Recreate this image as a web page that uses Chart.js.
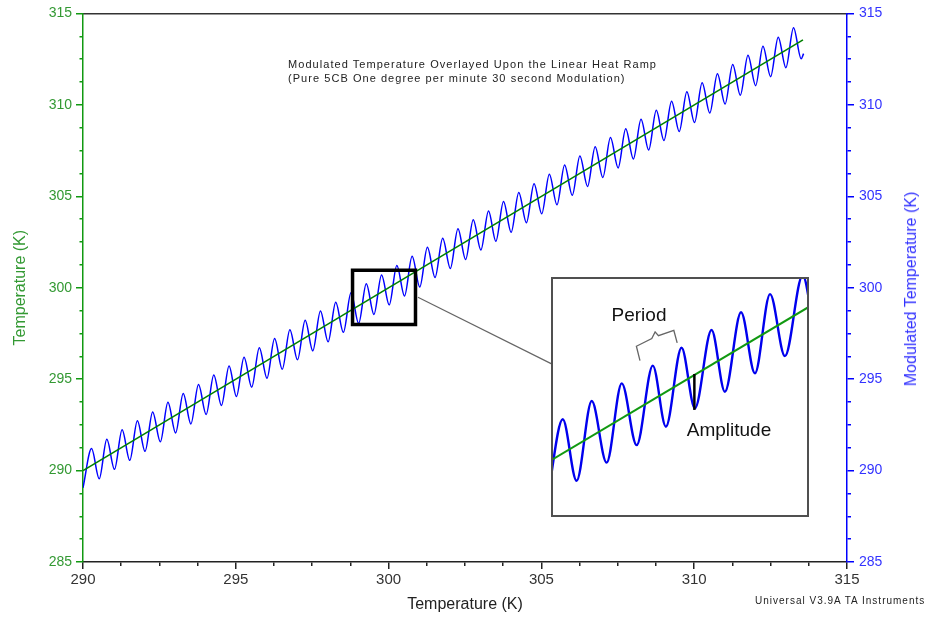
<!DOCTYPE html>
<html>
<head>
<meta charset="utf-8">
<script src="https://cdn.jsdelivr.net/npm/chart.js@4.4.1/dist/chart.umd.min.js"></script>
<style>
  body { margin:0; background:#fff; font-family:"Liberation Sans", Arial, sans-serif; }
  #wrap { position:relative; width:927px; height:617px; }
  .txt { position:absolute; white-space:nowrap; color:#222; }
  #inset { position:absolute; left:551px; top:277px; width:254px; height:236px; border:2px solid #505050; background:#fff; }
  #inset canvas { display:block; }
</style>
</head>
<body>
<div id="wrap">
  <canvas id="main" width="927" height="617"></canvas>
  <div class="txt" style="left:288px;top:57px;font-size:11px;line-height:14px;letter-spacing:1.05px;">Modulated Temperature Overlayed Upon the Linear Heat Ramp<br>(Pure 5CB One degree per minute 30 second Modulation)</div>
  <div class="txt" style="left:755px;top:595px;font-size:10px;letter-spacing:1px;">Universal V3.9A TA Instruments</div>
  <div class="txt" style="left:911px;top:289px;font-size:16px;line-height:1;color:#3333ff;transform:translate(-50%,-50%) rotate(-90deg);">Modulated Temperature (K)</div>
  <div id="inset"><canvas id="zoom" width="254" height="236"></canvas></div>
  <div class="txt" style="left:639px;top:314px;font-size:19px;line-height:1;color:#111;transform:translate(-50%,-50%);">Period</div>
  <div class="txt" style="left:729px;top:429px;font-size:19px;line-height:1;color:#111;transform:translate(-50%,-50%);">Amplitude</div>
</div>
<script>
const FONT = "'Liberation Sans', Arial, sans-serif";

// linear heat ramp (green)
const rampT = [290.00, 313.56];
const rampK = [290.00, 313.55];

// modulated temperature (blue): peaks and troughs
const peakT = [290.28, 290.78, 291.28, 291.78, 292.28, 292.78, 293.28, 293.78, 294.28, 294.78,
  295.27, 295.77, 296.27, 296.77, 297.27, 297.77, 298.27, 298.77, 299.27, 299.77,
  300.27, 300.77, 301.27, 301.77, 302.27, 302.77, 303.27, 303.76, 304.26, 304.76,
  305.26, 305.76, 306.26, 306.76, 307.26, 307.76, 308.26, 308.76, 309.26, 309.76,
  310.26, 310.76, 311.26, 311.76, 312.25, 312.75, 313.25];
const peakMod = [291.20, 291.71, 292.23, 292.72, 293.20, 293.73, 294.22, 294.70, 295.23, 295.72,
  296.20, 296.72, 297.22, 297.70, 298.22, 298.72, 299.20, 299.72, 300.21, 300.70,
  301.22, 301.72, 302.21, 302.70, 303.22, 303.72, 304.20, 304.71, 305.21, 305.69,
  306.21, 306.71, 307.20, 307.71, 308.21, 308.69, 309.21, 309.71, 310.20, 310.72,
  311.21, 311.70, 312.21, 312.71, 313.20, 313.70, 314.22];
const troughT = [290.53, 291.03, 291.53, 292.03, 292.53, 293.03, 293.53, 294.03, 294.53, 295.02,
  295.52, 296.02, 296.52, 297.02, 297.52, 298.02, 298.52, 299.02, 299.52, 300.02,
  300.52, 301.02, 301.52, 302.02, 302.52, 303.02, 303.51, 304.01, 304.51, 305.01,
  305.51, 306.01, 306.51, 307.01, 307.51, 308.01, 308.51, 309.01, 309.51, 310.01,
  310.51, 311.01, 311.51, 312.01, 312.50, 313.00, 313.50];
const troughMod = [289.55, 290.07, 290.56, 291.05, 291.57, 292.06, 292.55, 293.07, 293.56, 294.05,
  294.56, 295.05, 295.54, 296.06, 296.55, 297.04, 297.56, 298.05, 298.54, 299.06,
  299.55, 300.04, 300.56, 301.05, 301.54, 302.06, 302.54, 303.03, 303.55, 304.04,
  304.53, 305.05, 305.54, 306.03, 306.55, 307.04, 307.53, 308.05, 308.54, 309.03,
  309.55, 310.04, 310.53, 311.05, 311.54, 312.03, 312.52];
const edgeT = [290.00, 313.58];
const edgeMod = [289.06, 312.80];

// zoomed region marked on the main plot, and the leader line to the inset
const zoomT = [298.82, 300.88];
const zoomK = [297.99, 300.96];
const leaderT = [300.96, 305.35];
const leaderK = [299.48, 295.82];

// inset (schematic close-up, arbitrary 0-100 units)
const insetRampX = [0, 100];
const insetRampY = [23.7, 87.5];
const insetPeakX = [4.3, 15.6, 27.3, 39.4, 50.6, 62.3, 73.8, 85.1, 97.8];
const insetPeakY = [40.7, 48.3, 55.7, 63.1, 70.6, 78.0, 85.4, 93.0, 100.8];
const insetTroughX = [-1.6, 9.7, 21.4, 33.1, 44.5, 55.8, 67.5, 79.2, 90.9, 102.6];
const insetTroughY = [8.0, 15.0, 22.6, 29.9, 37.6, 45.3, 52.2, 59.9, 67.1, 74.6];
const amplitudeX = [55.6, 55.6];
const amplitudeY = [44.6, 59.6];
const braceX = [34.4, 33.0, 39.0, 40.3, 41.6, 47.6, 48.9];
const braceY = [65.2, 71.2, 74.4, 77.2, 75.6, 77.8, 72.6];

const pts = (xs, ys) => xs.map((x, i) => ({x: x, y: ys[i]}));
const byX = (a, b) => a.x - b.x;

const modData = pts(peakT, peakMod).concat(pts(troughT, troughMod), pts(edgeT, edgeMod)).sort(byX);
const boxData = [
  {x: zoomT[0], y: (zoomK[0] + zoomK[1]) / 2},
  {x: zoomT[0], y: zoomK[1]}, {x: zoomT[1], y: zoomK[1]},
  {x: zoomT[1], y: zoomK[0]}, {x: zoomT[0], y: zoomK[0]},
  {x: zoomT[0], y: (zoomK[0] + zoomK[1]) / 2}
];

const isMajor = v => Math.abs(v % 5) < 1e-6;
function axisGrid(color, minorDash) {
  return {
    drawOnChartArea: false,
    color: color,
    lineWidth: 1.5,
    tickLength: 7,
    tickBorderDash: ctx => (ctx.tick && !isMajor(ctx.tick.value)) ? minorDash : []
  };
}

new Chart(document.getElementById('main'), {
  type: 'line',
  data: {
    datasets: [
      {label: 'Temperature', data: pts(rampT, rampK), yAxisID: 'y', borderColor: '#008000', borderWidth: 1.6, pointRadius: 0, tension: 0, order: 1},
      {label: 'Modulated Temperature', data: modData, yAxisID: 'y2', borderColor: '#0000ff', borderWidth: 1.5, pointRadius: 0, cubicInterpolationMode: 'monotone', order: 2},
      {label: 'zoom', data: boxData, yAxisID: 'y', borderColor: '#000', borderWidth: 3.5, pointRadius: 0, tension: 0, borderJoinStyle: 'miter', order: 0},
      {label: 'leader', data: pts(leaderT, leaderK), yAxisID: 'y', borderColor: '#666', borderWidth: 1.2, pointRadius: 0, tension: 0, order: 0}
    ]
  },
  options: {
    responsive: false,
    animation: false,
    events: [],
    layout: {padding: {top: 13, left: 0, right: 0, bottom: 0}},
    plugins: {legend: {display: false}, tooltip: {enabled: false}},
    scales: {
      x: {
        type: 'linear', position: 'bottom', min: 290, max: 315,
        ticks: {stepSize: 1.25, autoSkip: false, maxRotation: 0, padding: 2, color: '#333',
          font: {family: FONT, size: 15}, callback: v => isMajor(v) ? v : ''},
        grid: axisGrid('#222', [3.5, 20]),
        border: {color: '#222', width: 1.5},
        title: {display: true, text: 'Temperature (K)', color: '#222', font: {family: FONT, size: 16}, padding: {top: 0, bottom: 3}},
        afterFit: s => { s.height = 55; }
      },
      xTop: {
        type: 'linear', position: 'top', min: 290, max: 315,
        ticks: {display: false}, grid: {display: false, drawTicks: false},
        border: {color: '#333', width: 1.5},
        afterFit: s => { s.height = 0; }
      },
      y: {
        type: 'linear', position: 'left', min: 285, max: 315,
        ticks: {stepSize: 1.25, autoSkip: false, padding: 4, color: '#339933',
          font: {family: FONT, size: 14}, callback: v => isMajor(v) ? v : ''},
        grid: axisGrid('#119911', [0, 3.5, 20]),
        border: {color: '#119911', width: 1.5},
        title: {display: true, text: 'Temperature (K)', color: '#339933', font: {family: FONT, size: 16}, padding: {top: 11, bottom: 0}},
        afterFit: s => { s.width = 83; }
      },
      y2: {
        type: 'linear', position: 'right', min: 285, max: 315,
        ticks: {stepSize: 1.25, autoSkip: false, padding: 5, color: '#3333ff',
          font: {family: FONT, size: 14}, callback: v => isMajor(v) ? v : ''},
        grid: axisGrid('#0000ff', [3.5, 20]),
        border: {color: '#0000ff', width: 1.5},
        afterFit: s => { s.width = 80; }
      }
    }
  }
});

new Chart(document.getElementById('zoom'), {
  type: 'line',
  data: {
    datasets: [
      {data: pts(insetRampX, insetRampY), borderColor: '#119911', borderWidth: 2, pointRadius: 0, tension: 0, order: 1},
      {data: pts(insetPeakX, insetPeakY).concat(pts(insetTroughX, insetTroughY)).sort(byX), borderColor: '#0000ee', borderWidth: 2.4, pointRadius: 0, cubicInterpolationMode: 'monotone', order: 2},
      {data: pts(amplitudeX, amplitudeY), borderColor: '#000', borderWidth: 2.5, pointRadius: 0, tension: 0, order: 0},
      {data: pts(braceX, braceY), borderColor: '#666', borderWidth: 1.3, pointRadius: 0, tension: 0, order: 0}
    ]
  },
  options: {
    responsive: false,
    animation: false,
    events: [],
    layout: {padding: 0},
    plugins: {legend: {display: false}, tooltip: {enabled: false}},
    scales: {
      x: {type: 'linear', min: 0.5, max: 99.5, display: false},
      y: {type: 'linear', min: 0.7, max: 99.3, display: false}
    }
  }
});
</script>
</body>
</html>
